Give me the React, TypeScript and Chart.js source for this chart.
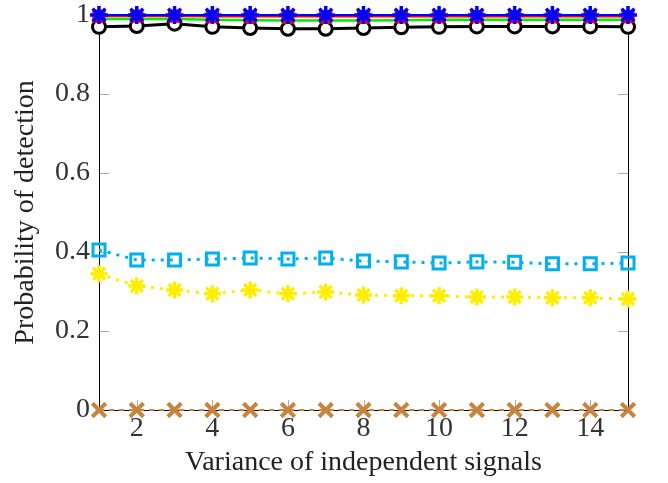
import React, { useEffect, useRef } from "react";
import { Chart, registerables } from "chart.js";

Chart.register(...registerables);

const xValues = [1, 2, 3, 4, 5, 6, 7, 8, 9, 10, 11, 12, 13, 14, 15];
const xTicks = [2, 4, 6, 8, 10, 12, 14];
const yTicks = [0, 0.2, 0.4, 0.6, 0.8, 1];
const yTickLabels = ["0", "0.2", "0.4", "0.6", "0.8", "1"];

const blueSeries = [1, 1, 1, 1, 1, 1, 1, 1, 1, 1, 1, 1, 1, 1, 1];
const redSeries = [0.997, 0.997, 0.997, 0.996, 0.996, 0.996, 0.996, 0.996, 0.996, 0.996, 0.996, 0.996, 0.996, 0.996, 0.996];
const greenSeries = [0.99, 0.99, 0.99, 0.988, 0.987, 0.986, 0.986, 0.986, 0.987, 0.988, 0.988, 0.988, 0.988, 0.988, 0.988];
const blackSeries = [0.97, 0.972, 0.978, 0.97, 0.967, 0.965, 0.965, 0.967, 0.969, 0.97, 0.971, 0.971, 0.971, 0.971, 0.97];
const cyanSeries = [0.405, 0.38, 0.38, 0.382, 0.385, 0.382, 0.385, 0.377, 0.375, 0.372, 0.375, 0.374, 0.37, 0.37, 0.372];
const yellowSeries = [0.345, 0.314, 0.304, 0.294, 0.304, 0.294, 0.299, 0.291, 0.289, 0.289, 0.286, 0.286, 0.284, 0.284, 0.281];
const brownSeries = [0, 0, 0, 0, 0, 0, 0, 0, 0, 0, 0, 0, 0, 0, 0];

const FONT = "'Liberation Serif', 'DejaVu Serif', serif";
const FONT_SIZE = 28;

const framePlugin = {
  id: "frame",
  beforeDatasetsDraw(chart: any) {
    const { ctx, chartArea } = chart;
    const xs = chart.scales.x;
    const ys = chart.scales.y;
    ctx.save();
    ctx.strokeStyle = "#aaaaaa";
    ctx.lineWidth = 1;
    const tl = 10;
    ctx.beginPath();
    for (const v of yTicks) {
      const py = Math.round(ys.getPixelForValue(v)) + 0.5;
      ctx.moveTo(chartArea.left, py);
      ctx.lineTo(chartArea.left + tl, py);
      ctx.moveTo(chartArea.right, py);
      ctx.lineTo(chartArea.right - tl, py);
    }
    for (const v of xTicks) {
      const px = Math.round(xs.getPixelForValue(v)) + 0.5;
      ctx.moveTo(px, chartArea.bottom);
      ctx.lineTo(px, chartArea.bottom - tl);
      ctx.moveTo(px, chartArea.top);
      ctx.lineTo(px, chartArea.top + tl);
    }
    ctx.stroke();
    ctx.strokeStyle = "#000000";
    ctx.lineWidth = 1;
    ctx.beginPath();
    const l = Math.round(chartArea.left) + 0.5;
    const r = Math.round(chartArea.right) + 0.5;
    const t = Math.round(chartArea.top) + 0.5;
    const b = Math.round(chartArea.bottom) + 0.5;
    ctx.moveTo(l, t);
    ctx.lineTo(l, b);
    ctx.lineTo(r, b);
    ctx.lineTo(r, t);
    ctx.lineTo(l, t);
    ctx.stroke();
    ctx.restore();
  },
};

function pts(arr: number[]) {
  return xValues.map((x, i) => ({ x, y: arr[i] }));
}

export default function App() {
  const ref = useRef<HTMLCanvasElement | null>(null);
  useEffect(() => {
    document.body.style.margin = "0";
    const canvas = ref.current;
    if (!canvas) return;
    const chart = new Chart(canvas, {
      type: "line",
      data: {
        datasets: [
          {
            label: "blue",
            data: pts(blueSeries),
            borderColor: "#0000ff",
            backgroundColor: "#0000ff",
            borderWidth: 2,
            pointStyle: "star",
            pointRadius: 9,
            pointBorderWidth: 3.5,
            pointBorderColor: "#0000ff",
            clip: false,
          },
          {
            label: "red",
            data: pts(redSeries),
            borderColor: "#ff0000",
            backgroundColor: "#ff0000",
            borderWidth: 2,
            pointStyle: "rect",
            pointRadius: 8,
            pointBorderWidth: 2,
            pointBorderColor: "#ff0000",
            pointBackgroundColor: "#ff0000",
            clip: false,
          },
          {
            label: "green",
            data: pts(greenSeries),
            borderColor: "#00ee00",
            backgroundColor: "#00ee00",
            borderWidth: 2.5,
            pointStyle: "triangle",
            pointRadius: 4,
            pointBorderWidth: 2,
            pointBorderColor: "#00ee00",
            pointBackgroundColor: "#00ee00",
            clip: false,
          },
          {
            label: "black",
            data: pts(blackSeries),
            borderColor: "#000000",
            backgroundColor: "#ffffff",
            borderWidth: 3,
            pointStyle: "circle",
            pointRadius: 6.5,
            pointBorderWidth: 3,
            pointBorderColor: "#000000",
            pointBackgroundColor: "#ffffff",
            clip: false,
          },
          {
            label: "cyan",
            data: pts(cyanSeries),
            borderColor: "#00b0f0",
            backgroundColor: "#00b0f0",
            borderWidth: 3,
            borderDash: [3, 6],
            pointStyle: "rect",
            pointRadius: 8.5,
            pointBorderWidth: 3,
            pointBorderColor: "#00b0f0",
            pointBackgroundColor: "rgba(0,0,0,0)",
            clip: false,
          },
          {
            label: "yellow",
            data: pts(yellowSeries),
            borderColor: "#ffee00",
            backgroundColor: "#ffee00",
            borderWidth: 3,
            borderDash: [3, 6],
            pointStyle: "star",
            pointRadius: 8.5,
            pointBorderWidth: 3.5,
            pointBorderColor: "#ffee00",
            clip: false,
          },
          {
            label: "brown",
            data: pts(brownSeries),
            borderColor: "#c8843c",
            backgroundColor: "#c8843c",
            borderWidth: 2,
            borderDash: [5, 5],
            pointStyle: "crossRot",
            pointRadius: 9.5,
            pointBorderWidth: 4,
            pointBorderColor: "#c8843c",
            clip: false,
          },
        ],
      },
      options: {
        animation: false,
        responsive: false,
        maintainAspectRatio: false,
        layout: { padding: { top: 15, right: 40, left: 0, bottom: 0 } },
        plugins: {
          legend: { display: false },
          tooltip: { enabled: false },
        },
        elements: { line: { tension: 0 } },
        scales: {
          x: {
            type: "linear",
            min: 1,
            max: 15,
            grid: { display: false, drawTicks: false },
            border: { display: false },
            afterBuildTicks: (s: any) => {
              s.ticks = xTicks.map((v) => ({ value: v }));
            },
            afterFit: (s: any) => {
              s.height = 73;
              s.paddingLeft = 0;
              s.paddingRight = 0;
            },
            ticks: {
              color: "#333333",
              padding: 2,
              font: { family: FONT, size: FONT_SIZE },
              callback: (v: any) => String(v),
            },
            title: {
              display: true,
              text: "Variance of independent signals",
              color: "#222222",
              font: { family: FONT, size: FONT_SIZE },
              padding: { top: 0, bottom: 4 },
            },
          },
          y: {
            type: "linear",
            min: 0,
            max: 1,
            grid: { display: false, drawTicks: false, tickLength: 0 },
            border: { display: false },
            afterBuildTicks: (s: any) => {
              s.ticks = yTicks.map((v) => ({ value: v }));
            },
            afterFit: (s: any) => {
              s.width = 99;
              s.paddingTop = 0;
              s.paddingBottom = 0;
            },
            ticks: {
              color: "#333333",
              padding: 9,
              font: { family: FONT, size: FONT_SIZE },
              callback: (v: any) => {
                const i = yTicks.indexOf(Number(v));
                return i >= 0 ? yTickLabels[i] : "";
              },
            },
            title: {
              display: true,
              text: "Probability of detection",
              color: "#222222",
              font: { family: FONT, size: FONT_SIZE },
              padding: { top: 9, bottom: 0 },
            },
          },
        },
      },
      plugins: [framePlugin],
    });
    return () => chart.destroy();
  }, []);
  return (
    <div style={{ width: 668, height: 483 }}>
      <canvas ref={ref} width={668} height={483} style={{ display: "block" }} />
    </div>
  );
}
